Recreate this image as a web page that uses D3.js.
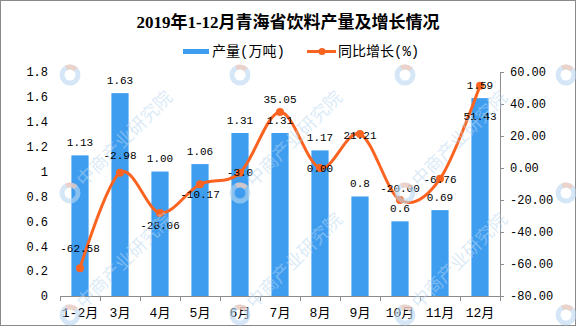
<!DOCTYPE html>
<html>
<head>
<meta charset="utf-8">
<script src="https://cdn.jsdelivr.net/npm/d3@7"></script>
<style>
  html, body { margin: 0; padding: 0; background: #fff; }
  svg { display: block; }
</style>
</head>
<body>
<div id="chart"></div>
<script>
// data
var months = ["1-2月", "3月", "4月", "5月", "6月", "7月", "8月", "9月", "10月", "11月", "12月"];
var output = [1.13, 1.63, 1.00, 1.06, 1.31, 1.31, 1.17, 0.8, 0.6, 0.69, 1.59];
var outputLabels = ["1.13", "1.63", "1.00", "1.06", "1.31", "1.31", "1.17", "0.8", "0.6", "0.69", "1.59"];
var growth = [-62.58, -2.98, -28.06, -10.17, -3.0, 35.05, 0.00, 21.21, -20.00, -6.76, 51.43];
var growthLabels = ["-62.58", "-2.98", "-28.06", "-10.17", "-3.0", "35.05", "0.00", "21.21", "-20.00", "-6.76", "51.43"];
var leftTicks = [0, 0.2, 0.4, 0.6, 0.8, 1, 1.2, 1.4, 1.6, 1.8];
var rightTicks = [-80, -60, -40, -20, 0, 20, 40, 60];

var title = "2019年1-12月青海省饮料产量及增长情况";
var legendBar = "产量(万吨)";
var legendLine = "同比增长(%)";

var width = 576, height = 327;
var barColor = "#3f9df0", lineColor = "#fa6420", axisColor = "#8c8c8c";
var numFont = "'Liberation Mono', 'Noto Sans CJK SC', monospace";

// where each growth label sits relative to its point (px)
var growthDy = [-20, -18, 12, 10, -1, -13, 0, 1, -12, 0, 30];

var svg = d3.select("#chart")
  .append("svg")
  .attr("width", width)
  .attr("height", height)

// frame
svg.append("rect")
  .attr("x", 0.5).attr("y", 0.5)
  .attr("width", width - 1).attr("height", height - 2)
  .attr("fill", "#fff")
  .attr("stroke", "#8a8a8a")

var x = d3.scaleBand().domain(months).range([60, 500]).padding(0)
var yL = d3.scaleLinear().domain([0, 1.8]).range([296, 72])
var yR = d3.scaleLinear().domain([-80, 60]).range([296, 72])

var barW = x.bandwidth() * 0.43;

// bars
svg.selectAll(".bar")
  .data(output).enter().append("rect")
    .attr("class", "bar")
    .attr("x", function(d, i){ return x(months[i]) + (x.bandwidth() - barW) / 2 })
    .attr("y", function(d){ return yL(d) })
    .attr("width", barW)
    .attr("height", function(d){ return yL(0) - yL(d) })
    .attr("fill", barColor)

// left axis, labels only
var gL = svg.append("g")
  .attr("transform", "translate(60,0)")
  .call(d3.axisLeft(yL).tickValues(leftTicks).tickSize(0).tickPadding(12)
    .tickFormat(function(d){ return String(+d.toFixed(1)) }))
gL.select(".domain").remove()
gL.selectAll("text").attr("font-family", numFont).attr("font-size", 12).attr("fill", "#000")

// right axis
var gR = svg.append("g")
  .attr("transform", "translate(500,0)")
  .call(d3.axisRight(yR).tickValues(rightTicks).tickSizeInner(4).tickSizeOuter(0).tickPadding(6)
    .tickFormat(function(d){ return d.toFixed(2) }))
gR.select(".domain").attr("stroke", axisColor)
gR.selectAll("line").attr("stroke", axisColor)
gR.selectAll("text").attr("font-family", numFont).attr("font-size", 12).attr("fill", "#000")

// bottom axis: labels at band centres, ticks on band edges
var gB = svg.append("g")
  .attr("transform", "translate(0,296)")
  .call(d3.axisBottom(x).tickSize(0).tickPadding(12))
gB.select(".domain").attr("stroke", axisColor)
gB.selectAll("text").attr("font-family", numFont).attr("font-size", 13).attr("fill", "#000")

var edges = months.map(function(m){ return x(m) }).concat([x.range()[1]]);
gB.selectAll(".edge")
  .data(edges).enter().append("line")
    .attr("class", "edge")
    .attr("x1", function(d){ return d + 0.5 }).attr("x2", function(d){ return d + 0.5 })
    .attr("y1", 0).attr("y2", 5)
    .attr("stroke", axisColor)

// growth line
var line = d3.line()
  .x(function(d, i){ return x(months[i]) + x.bandwidth() / 2 })
  .y(function(d){ return yR(d) })
  .curve(d3.curveCardinal.tension(0))

svg.append("path")
  .datum(growth)
  .attr("d", line)
  .attr("fill", "none")
  .attr("stroke", lineColor)
  .attr("stroke-width", 3)

svg.selectAll(".dot")
  .data(growth).enter().append("circle")
    .attr("class", "dot")
    .attr("cx", function(d, i){ return x(months[i]) + x.bandwidth() / 2 })
    .attr("cy", function(d){ return yR(d) })
    .attr("r", 4)
    .attr("fill", lineColor)

// bar labels
svg.selectAll(".barlabel")
  .data(output).enter().append("text")
    .attr("class", "barlabel")
    .attr("x", function(d, i){ return x(months[i]) + x.bandwidth() / 2 })
    .attr("y", function(d){ return yL(d) - 13 })
    .attr("dy", "0.35em")
    .attr("text-anchor", "middle")
    .attr("font-family", numFont)
    .attr("font-size", 11)
    .text(function(d, i){ return outputLabels[i] })

// growth labels
svg.selectAll(".linelabel")
  .data(growth).enter().append("text")
    .attr("class", "linelabel")
    .attr("x", function(d, i){ return x(months[i]) + x.bandwidth() / 2 })
    .attr("y", function(d, i){ return yR(d) + growthDy[i] })
    .attr("dy", "0.35em")
    .attr("text-anchor", "middle")
    .attr("font-family", numFont)
    .attr("font-size", 11)
    .text(function(d, i){ return growthLabels[i] })

// title
svg.append("text")
  .attr("x", width / 2).attr("y", 22)
  .attr("dy", "0.35em")
  .attr("text-anchor", "middle")
  .attr("font-family", "'Liberation Serif', 'Noto Sans CJK SC', serif")
  .attr("font-weight", "bold")
  .attr("font-size", 17)
  .text(title)

// legend
svg.append("rect")
  .attr("x", 183).attr("y", 49).attr("width", 26).attr("height", 5)
  .attr("fill", barColor)
svg.append("text")
  .attr("x", 212).attr("y", 51).attr("dy", "0.35em")
  .attr("font-family", numFont).attr("font-size", 14)
  .text(legendBar)
svg.append("line")
  .attr("x1", 307).attr("x2", 336).attr("y1", 51.5).attr("y2", 51.5)
  .attr("stroke", lineColor).attr("stroke-width", 3)
svg.append("circle")
  .attr("cx", 322).attr("cy", 51.5).attr("r", 3.5)
  .attr("fill", lineColor)
svg.append("text")
  .attr("x", 338).attr("y", 51).attr("dy", "0.35em")
  .attr("font-family", numFont).attr("font-size", 14)
  .text(legendLine)

// watermark tiles (faint, on top); text only where it fits inside the frame
var wm = svg.append("g").attr("pointer-events", "none")
var tileX = [70, 240, 405, 566], tileY = [75, 193, 315];
tileX.forEach(function(tx){
  tileY.forEach(function(ty){
    var t = wm.append("g").attr("transform", "translate(" + tx + "," + ty + ") rotate(-45)")
    t.append("circle")
      .attr("cx", 0).attr("cy", 0).attr("r", 8)
      .attr("fill", "none")
      .attr("stroke", "rgba(185,215,240,0.6)")
      .attr("stroke-width", 5)
    t.append("path")
      .attr("d", d3.arc()({innerRadius: 5.5, outerRadius: 10.5, startAngle: 0.3, endAngle: 1.6}))
      .attr("fill", "rgba(248,200,180,0.65)")
    if (ty > 100 && tx < 500) {
      t.append("text")
        .attr("x", 14).attr("y", 0).attr("dy", "0.35em")
        .attr("font-family", "'Noto Sans CJK SC', sans-serif")
        .attr("font-size", 18)
        .attr("fill", "rgba(185,215,240,0.5)")
        .text("中商产业研究院")
    }
  })
})
</script>
</body>
</html>
